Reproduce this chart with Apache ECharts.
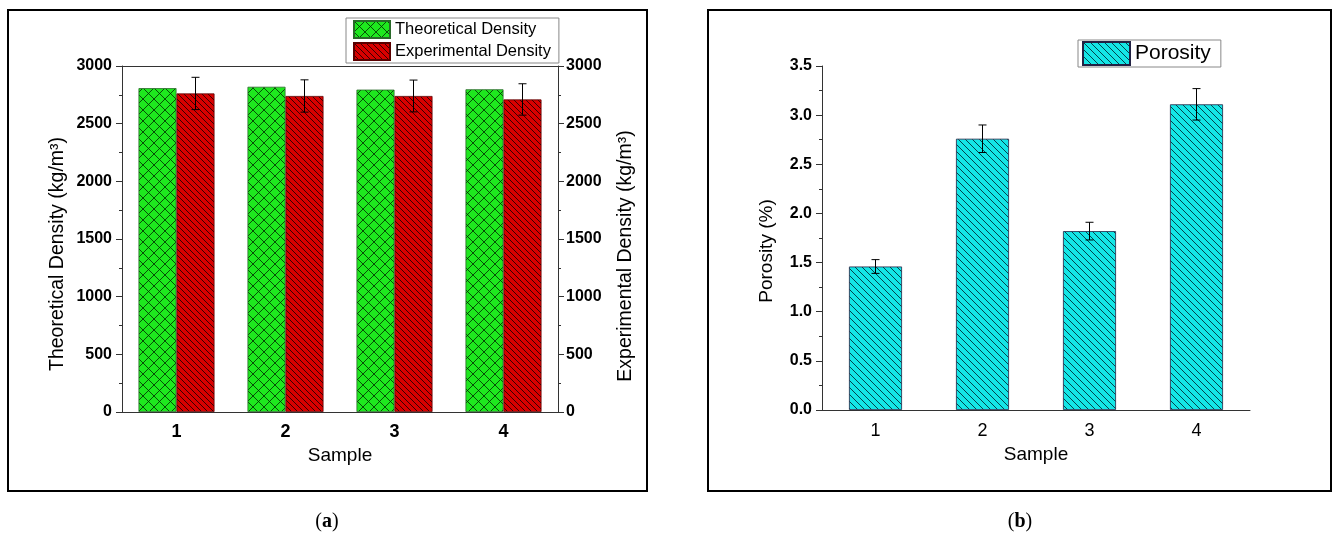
<!DOCTYPE html>
<html>
<head>
<meta charset="utf-8">
<script src="https://cdn.jsdelivr.net/npm/echarts@6/dist/echarts.min.js"></script>
<style>
html,body{margin:0;padding:0;background:#fff;}
#chart{width:1338px;height:540px;}
</style>
</head>
<body>
<div id="chart"></div>
<script>
// ---- data ----
const samples = ['1', '2', '3', '4'];
const theoreticalDensity = [2808, 2820, 2795, 2798];
const experimentalDensity = [2762, 2740, 2740, 2710];
const experimentalError = [140, 140, 138, 136];
const porosity = [1.46, 2.76, 1.82, 3.11];
const porosityError = [0.07, 0.14, 0.09, 0.16];
const densityTicks = [0, 500, 1000, 1500, 2000, 2500, 3000];
const porosityTicks = [0.0, 0.5, 1.0, 1.5, 2.0, 2.5, 3.0, 3.5];

// ---- hatch patterns ----
function hatch(bg, size, dirs, lineColor, lw) {
  const c = document.createElement('canvas');
  c.width = size; c.height = size;
  const g = c.getContext('2d');
  g.fillStyle = bg; g.fillRect(0, 0, size, size);
  g.strokeStyle = lineColor; g.lineWidth = lw;
  for (const d of dirs) {
    for (let k = -1; k <= 1; k++) {
      g.beginPath();
      if (d === '\\') { g.moveTo(k * size, 0); g.lineTo(k * size + size, size); }
      else { g.moveTo(k * size, size); g.lineTo(k * size + size, 0); }
      g.stroke();
    }
  }
  return { image: c, repeat: 'repeat' };
}
const greenPat = hatch('#1ee81e', 11, ['\\', '/'], 'rgba(0,40,0,0.8)', 1);
const redPat = hatch('#d80000', 6, ['\\'], 'rgba(40,0,0,0.9)', 1);
const cyanPat = hatch('#14e6e6', 7, ['\\'], 'rgba(0,50,60,0.9)', 1);

const chart = echarts.init(document.getElementById('chart'), null, { renderer: 'canvas' });

const FONT = 'Liberation Sans';
const axisLineStyle = { color: '#333', width: 1 };

function errRender(offset) {
  return function (params, api) {
    const x = api.value(0);
    const lo = api.coord([x, api.value(1)]);
    const hi = api.coord([x, api.value(2)]);
    const cx = lo[0] + offset;
    const cap = 4;
    const st = { stroke: '#000', lineWidth: 1 };
    return {
      type: 'group',
      children: [
        { type: 'line', shape: { x1: cx, y1: hi[1], x2: cx, y2: lo[1] }, style: st },
        { type: 'line', shape: { x1: cx - cap, y1: hi[1], x2: cx + cap, y2: hi[1] }, style: st },
        { type: 'line', shape: { x1: cx - cap, y1: lo[1], x2: cx + cap, y2: lo[1] }, style: st }
      ]
    };
  };
}

const expErrData = experimentalDensity.map((v, i) => [i, v - experimentalError[i], v + experimentalError[i]]);
const porErrData = porosity.map((v, i) => [i, v - porosityError[i], v + porosityError[i]]);

const option = {
  backgroundColor: '#fff',
  animation: false,
  textStyle: { fontFamily: FONT, color: '#000' },
  grid: [
    { left: 122, top: 66, width: 436, height: 346 },
    { left: 822, top: 66, width: 428, height: 344 }
  ],
  legend: [
    {
      data: ['Theoretical Density', 'Experimental Density'],
      orient: 'vertical', left: 346, top: 18,
      itemWidth: 36, itemHeight: 17, itemGap: 3,
      padding: [2, 8, 2, 7],
      borderColor: '#888', borderWidth: 1,
      icon: 'rect',
      textStyle: { fontFamily: FONT, fontSize: 16.5, color: '#000' }
    },
    {
      data: ['Porosity'],
      orient: 'vertical', left: 1078, top: 40,
      itemWidth: 47, itemHeight: 23,
      padding: [1, 10, 1, 4],
      borderColor: '#888', borderWidth: 1,
      icon: 'rect',
      textStyle: { fontFamily: FONT, fontSize: 21, color: '#000' }
    }
  ],
  xAxis: [
    {
      type: 'category', gridIndex: 0, data: samples, position: 'bottom',
      name: 'Sample', nameLocation: 'middle', nameGap: 32,
      nameTextStyle: { fontFamily: FONT, fontSize: 19, color: '#000' },
      axisLine: { onZero: false, lineStyle: axisLineStyle },
      axisTick: { alignWithLabel: true, length: 6, lineStyle: { color: '#000' } },
      axisLabel: { fontFamily: FONT, fontSize: 18, fontWeight: 'bold', color: '#000', margin: 11 },
      splitLine: { show: false }
    },
    {
      type: 'category', gridIndex: 0, data: samples, position: 'top',
      axisLine: { onZero: false, lineStyle: axisLineStyle },
      axisTick: { alignWithLabel: true, inside: true, length: 6, lineStyle: { color: '#000' } },
      axisLabel: { show: false },
      splitLine: { show: false }
    },
    {
      type: 'category', gridIndex: 1, data: samples, position: 'bottom',
      name: 'Sample', nameLocation: 'middle', nameGap: 30,
      nameTextStyle: { fontFamily: FONT, fontSize: 19, color: '#000' },
      axisLine: { onZero: false, lineStyle: axisLineStyle },
      axisTick: { alignWithLabel: true, length: 6, lineStyle: { color: '#000' } },
      axisLabel: { fontFamily: FONT, fontSize: 18, color: '#000', margin: 12 },
      splitLine: { show: false }
    },
    {
      type: 'category', gridIndex: 1, data: samples, position: 'bottom',
      axisLine: { show: false, onZero: false },
      axisTick: { alignWithLabel: false, length: 3, lineStyle: { color: '#333' } },
      axisLabel: { show: false },
      splitLine: { show: false }
    }
  ],
  yAxis: [
    {
      type: 'value', gridIndex: 0, min: densityTicks[0], max: densityTicks[densityTicks.length - 1], interval: 500,
      position: 'left',
      name: 'Theoretical Density (kg/m³)', nameLocation: 'middle', nameGap: 54, nameRotate: 90,
      nameMoveOverlap: false,
      nameTextStyle: { fontFamily: FONT, fontSize: 19.5, color: '#000', padding: [0, 30, 0, 0] },
      axisLine: { show: true, onZero: false, lineStyle: axisLineStyle },
      axisTick: { show: true, length: 6, lineStyle: { color: '#333' } },
      minorTick: { show: true, splitNumber: 2, length: 3, lineStyle: { color: '#333' } },
      axisLabel: { fontFamily: FONT, fontSize: 16, fontWeight: 'bold', color: '#000', margin: 10,
        formatter: v => String(v) },
      splitLine: { show: false }, minorSplitLine: { show: false }
    },
    {
      type: 'value', gridIndex: 0, min: densityTicks[0], max: densityTicks[densityTicks.length - 1], interval: 500,
      position: 'right',
      name: 'Experimental Density (kg/m³)', nameLocation: 'middle', nameGap: 58, nameRotate: 90,
      nameMoveOverlap: false,
      nameTextStyle: { fontFamily: FONT, fontSize: 19.5, color: '#000', padding: [0, 34, 0, 0] },
      axisLine: { show: true, onZero: false, lineStyle: axisLineStyle },
      axisTick: { show: true, length: 6, lineStyle: { color: '#333' } },
      minorTick: { show: true, splitNumber: 2, length: 3, lineStyle: { color: '#333' } },
      axisLabel: { fontFamily: FONT, fontSize: 16, fontWeight: 'bold', color: '#000', margin: 8,
        formatter: v => String(v) },
      splitLine: { show: false }, minorSplitLine: { show: false }
    },
    {
      type: 'value', gridIndex: 1, min: porosityTicks[0], max: porosityTicks[porosityTicks.length - 1], interval: 0.5,
      position: 'left',
      name: 'Porosity (%)', nameLocation: 'middle', nameGap: 46, nameRotate: 90,
      nameMoveOverlap: false,
      nameTextStyle: { fontFamily: FONT, fontSize: 19, color: '#000', padding: [0, 26, 0, 0] },
      axisLine: { show: true, onZero: false, lineStyle: axisLineStyle },
      axisTick: { show: true, length: 6, lineStyle: { color: '#333' } },
      minorTick: { show: true, splitNumber: 2, length: 3, lineStyle: { color: '#333' } },
      axisLabel: { fontFamily: FONT, fontSize: 16, fontWeight: 'bold', color: '#000', margin: 10,
        formatter: v => v.toFixed(1) },
      splitLine: { show: false }, minorSplitLine: { show: false }
    }
  ],
  series: [
    {
      name: 'Theoretical Density', type: 'bar', xAxisIndex: 0, yAxisIndex: 0,
      data: theoreticalDensity, barWidth: 38, barGap: '0%',
      itemStyle: { color: greenPat, borderColor: '#2a6a2a', borderWidth: 0.8 }
    },
    {
      name: 'Experimental Density', type: 'bar', xAxisIndex: 0, yAxisIndex: 1,
      data: experimentalDensity, barWidth: 38, barGap: '0%',
      itemStyle: { color: redPat, borderColor: '#5a0000', borderWidth: 0.8 }
    },
    {
      name: 'ExpErr', type: 'custom', xAxisIndex: 0, yAxisIndex: 1,
      data: expErrData, encode: { x: 0, y: [1, 2] },
      renderItem: errRender(19), z: 5
    },
    {
      name: 'Porosity', type: 'bar', xAxisIndex: 2, yAxisIndex: 2,
      data: porosity, barWidth: 53,
      itemStyle: { color: cyanPat, borderColor: '#224', borderWidth: 0.8 }
    },
    {
      name: 'PorErr', type: 'custom', xAxisIndex: 2, yAxisIndex: 2,
      data: porErrData, encode: { x: 0, y: [1, 2] },
      renderItem: errRender(0), z: 5
    }
  ],
  graphic: [
    { type: 'rect', shape: { x: 8, y: 10, width: 639, height: 481 },
      style: { fill: null, stroke: '#000', lineWidth: 2 }, silent: true },
    { type: 'rect', shape: { x: 708, y: 10, width: 623, height: 481 },
      style: { fill: null, stroke: '#000', lineWidth: 2 }, silent: true },
    { type: 'text', x: 327, y: 522,
      style: { text: '({b|a})', fill: '#000', font: '20px "Liberation Serif"', align: 'center', verticalAlign: 'middle',
        rich: { b: { fontFamily: 'Liberation Serif', fontSize: 20, fontWeight: 'bold' } } } },
    { type: 'text', x: 1020, y: 522,
      style: { text: '({b|b})', fill: '#000', font: '20px "Liberation Serif"', align: 'center', verticalAlign: 'middle',
        rich: { b: { fontFamily: 'Liberation Serif', fontSize: 20, fontWeight: 'bold' } } } }
  ]
};
chart.setOption(option);
</script>
</body>
</html>
